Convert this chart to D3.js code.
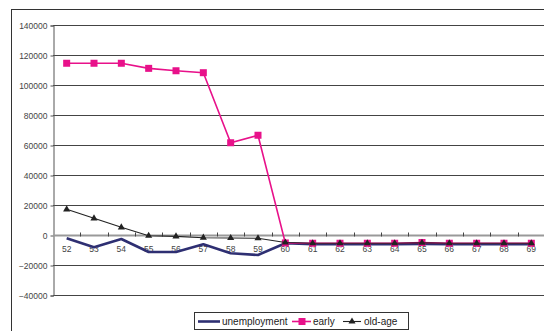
<!DOCTYPE html>
<html>
<head>
<meta charset="utf-8">
<script src="https://cdn.jsdelivr.net/npm/d3@7/dist/d3.min.js"></script>
<style>
  html, body { margin: 0; padding: 0; background: #fff; }
  svg { display: block; }
</style>
</head>
<body>
<svg id="chart" width="544" height="331"></svg>
<script>
// Age categories along the x axis
const ages = ["52","53","54","55","56","57","58","59","60","61","62","63","64","65","66","67","68","69"];

// Series values
const unemployment = [-2200, -8200, -2700, -11300, -11300, -6200, -12200, -13300, -5500, -6200, -6200, -6200, -6200, -6000, -6200, -6200, -6200, -6200];
const early = [114500, 114500, 114500, 111100, 109500, 108200, 61500, 66500, -5300, -5500, -5500, -5500, -5500, -5000, -5500, -5500, -5500, -5500];
const oldAge = [17100, 11100, 5100, -500, -900, -1800, -2000, -2200, -5000, -5500, -5500, -5500, -5500, -5200, -5500, -5500, -5500, -5500];

// Y axis ticks
const yTicks = [-40000, -20000, 0, 20000, 40000, 60000, 80000, 100000, 120000, 140000];

const seriesNames = ["unemployment", "early", "old-age"];

const svg = d3.select("#chart");
const font = "'Liberation Sans', Arial, sans-serif";

// Outer chart frame
svg.append("rect")
  .attr("x", 11.5).attr("y", 9.5)
  .attr("width", 560).attr("height", 340)
  .attr("fill", "none").attr("stroke", "#333").attr("stroke-width", 1);

const plot = { left: 53, right: 545, top: 25, bottom: 295 };

const x = d3.scaleBand().domain(ages).range([plot.left, plot.right]).padding(0);
const y = d3.scaleLinear().domain([-40000, 140000]).range([plot.bottom, plot.top]);
const cx = d => x(d) + x.bandwidth() / 2;

// Horizontal gridlines
svg.append("g")
  .selectAll("line")
  .data(yTicks.filter(v => v !== 0))
  .join("line")
  .attr("x1", plot.left).attr("x2", plot.right + 10)
  .attr("y1", d => Math.round(y(d)) + 0.5).attr("y2", d => Math.round(y(d)) + 0.5)
  .attr("stroke", "#444").attr("stroke-width", 1);

// Y axis
const yAxis = d3.axisLeft(y).tickValues(yTicks).tickSize(3).tickPadding(3).tickFormat(d3.format("d"));
const gy = svg.append("g")
  .attr("transform", `translate(${plot.left + 0.5},0.5)`)
  .call(yAxis);
gy.select(".domain").attr("stroke", "#555");
gy.selectAll(".tick line").attr("stroke", "#555");
gy.selectAll(".tick text")
  .attr("font-family", font).attr("font-size", 8.5).attr("fill", "#444");

// X axis at zero, category boundaries as ticks
const zeroY = Math.round(y(0)) + 0.5;
svg.append("line")
  .attr("x1", plot.left).attr("x2", plot.right + 10)
  .attr("y1", zeroY).attr("y2", zeroY)
  .attr("stroke", "#999").attr("stroke-width", 2);
svg.append("g")
  .selectAll("line")
  .data(ages.slice(1))
  .join("line")
  .attr("x1", d => Math.round(x(d)) + 0.5).attr("x2", d => Math.round(x(d)) + 0.5)
  .attr("y1", zeroY - 3).attr("y2", zeroY + 1)
  .attr("stroke", "#444").attr("stroke-width", 1);
svg.append("g")
  .selectAll("text")
  .data(ages)
  .join("text")
  .attr("x", d => cx(d))
  .attr("y", zeroY + 16)
  .attr("text-anchor", "middle")
  .attr("font-family", font).attr("font-size", 8.5).attr("fill", "#444")
  .text(d => d);

const line = d3.line().x((d, i) => cx(ages[i])).y(d => y(d));

// unemployment: thick navy line, no markers
svg.append("path")
  .datum(unemployment)
  .attr("d", line)
  .attr("fill", "none").attr("stroke", "#2e2f72").attr("stroke-width", 2.6)
  .attr("stroke-linejoin", "round");

// early: magenta line with square markers
svg.append("path")
  .datum(early)
  .attr("d", line)
  .attr("fill", "none").attr("stroke", "#e8118a").attr("stroke-width", 1.6);
svg.append("g")
  .selectAll("rect")
  .data(early)
  .join("rect")
  .attr("x", (d, i) => cx(ages[i]) - 3.5).attr("y", d => y(d) - 3.5)
  .attr("width", 7).attr("height", 7)
  .attr("fill", "#e8118a");

// old-age: dark line with triangle markers
const tri = d3.symbol().type(d3.symbolTriangle).size(22);
svg.append("path")
  .datum(oldAge)
  .attr("d", line)
  .attr("fill", "none").attr("stroke", "#222").attr("stroke-width", 1.1);
svg.append("g")
  .selectAll("path")
  .data(oldAge)
  .join("path")
  .attr("transform", (d, i) => `translate(${cx(ages[i])},${y(d)})`)
  .attr("d", tri)
  .attr("fill", "#222");

// Legend
const lg = svg.append("g");
lg.append("rect")
  .attr("x", 194.5).attr("y", 312.5).attr("width", 214).attr("height", 17)
  .attr("fill", "#fff").attr("stroke", "#333").attr("stroke-width", 1);
const ly = 321.5;
// unemployment
lg.append("line").attr("x1", 198).attr("x2", 220).attr("y1", ly).attr("y2", ly)
  .attr("stroke", "#2e2f72").attr("stroke-width", 2.6);
lg.append("text").attr("x", 222).attr("y", ly + 3.5)
  .attr("font-family", font).attr("font-size", 10).attr("fill", "#222").text(seriesNames[0]);
// early
lg.append("line").attr("x1", 292).attr("x2", 311).attr("y1", ly).attr("y2", ly)
  .attr("stroke", "#e8118a").attr("stroke-width", 1.6);
lg.append("rect").attr("x", 298.5).attr("y", ly - 3.5).attr("width", 7).attr("height", 7)
  .attr("fill", "#e8118a");
lg.append("text").attr("x", 313).attr("y", ly + 3.5)
  .attr("font-family", font).attr("font-size", 10).attr("fill", "#222").text(seriesNames[1]);
// old-age
lg.append("line").attr("x1", 343).attr("x2", 361).attr("y1", ly).attr("y2", ly)
  .attr("stroke", "#222").attr("stroke-width", 1.1);
lg.append("path").attr("transform", `translate(352,${ly})`).attr("d", tri).attr("fill", "#222");
lg.append("text").attr("x", 364).attr("y", ly + 3.5)
  .attr("font-family", font).attr("font-size", 10).attr("fill", "#222").text(seriesNames[2]);
</script>
</body>
</html>
